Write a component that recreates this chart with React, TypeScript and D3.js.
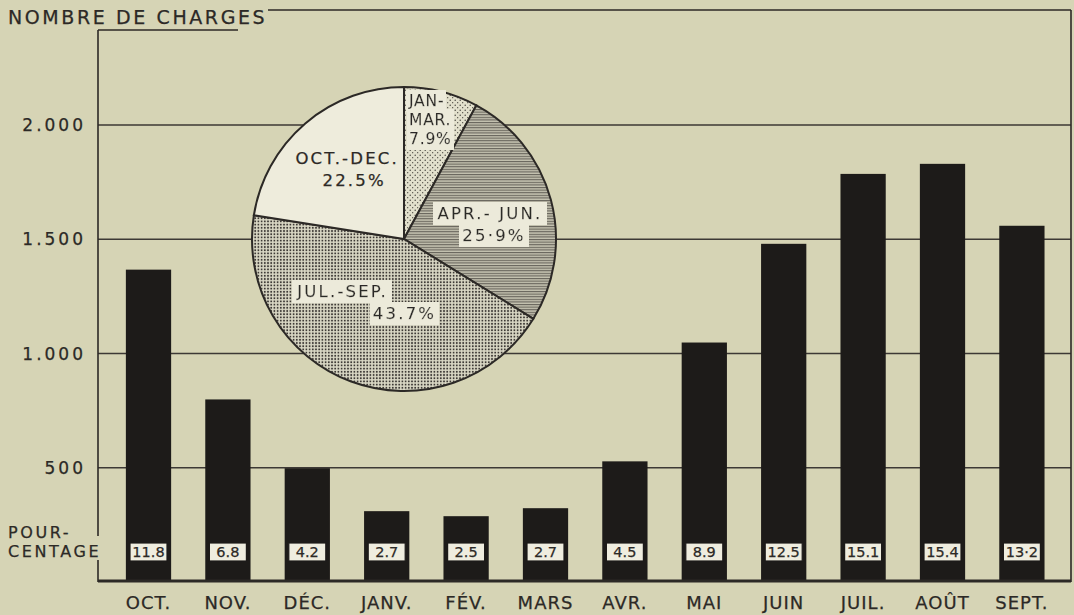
import React, { useEffect } from 'react';
import { scaleBand, scaleLinear, pie, arc } from 'd3';

// monthly counts
const months = ['OCT.', 'NOV.', 'DÉC.', 'JANV.', 'FÉV.', 'MARS', 'AVR.', 'MAI', 'JUIN', 'JUIL.', 'AOÛT', 'SEPT.'];
const charges = [1367, 799, 498, 310, 288, 323, 528, 1048, 1480, 1786, 1830, 1559];
const percents = ['11.8', '6.8', '4.2', '2.7', '2.5', '2.7', '4.5', '8.9', '12.5', '15.1', '15.4', '13·2'];

const yTicks = [500, 1000, 1500, 2000];
const yTickLabels = ['500', '1.000', '1.500', '2.000'];

// quarterly shares for the pie
const quarters = ['JAN.-MAR.', 'APR.-JUN.', 'JUL.-SEP.', 'OCT.-DEC.'];
const quarterShares = [7.9, 25.9, 43.7, 22.5];
const quarterLines = [
  ['JAN-', 'MAR.', '7.9%'],
  ['APR.- JUN.', '25·9%'],
  ['JUL.-SEP.', '43.7%'],
  ['OCT.-DEC.', '22.5%'],
];

const W = 1074, H = 615;
const BG = '#d6d4b5';
const INK = '#2c2926';
const FONT = '"DejaVu Sans", sans-serif';

const left = 98, right = 1071, base = 582;

// slightly heavier print look for the lettering
const ink = { stroke: INK, strokeWidth: 0.25 } as const;

const App = () => {
  useEffect(() => {
    document.body.style.margin = '0';
    document.body.style.background = BG;
  }, []);

  const x = scaleBand<string>()
    .domain(months)
    .range([108.8, 1061.6])
    .paddingInner(0.43)
    .paddingOuter(0.215);

  const y = scaleLinear().domain([0, 2000]).range([base, 125]);

  const cx = 404, cy = 239, r = 152;
  const slices = pie<number>().sort(null)(quarterShares);
  const drawArc = arc<any>().innerRadius(0).outerRadius(r);
  const fills = ['url(#sparse)', 'url(#hatch)', 'url(#dense)', '#eeecdc'];
  // label placement: [angle offset in rad, radius factor, text anchor]
  const labelPlace: [number, number, string][] = [
    [-0.06, 0.8, 'start'],
    [0.1, 0.6, 'middle'],
    [0.08, 0.46, 'middle'],
    [0.05, 0.58, 'middle'],
  ];
  const lineShift = [[0, 0, 0], [-4, 0], [-32, 30], [-3, 4]];

  return (
    <svg width={W} height={H} style={{ display: 'block', position: 'absolute', left: 0, top: 0 }}
      fontFamily={FONT} fill={INK}>
      <defs>
        <pattern id="sparse" width="5" height="5" patternUnits="userSpaceOnUse">
          <rect width="5" height="5" fill="#e2e0cc" />
          <circle cx="1.2" cy="1.2" r="0.7" fill="#3c3934" />
          <circle cx="3.7" cy="3.7" r="0.6" fill="#3c3934" />
        </pattern>
        <pattern id="dense" width="3.2" height="3.2" patternUnits="userSpaceOnUse">
          <rect width="3.2" height="3.2" fill="#d9d7c4" />
          <circle cx="1.6" cy="1.6" r="0.95" fill="#3a3632" />
        </pattern>
        <pattern id="hatch" width="6" height="2.6" patternUnits="userSpaceOnUse">
          <rect width="6" height="2.6" fill="#c4c2b0" />
          <rect y="0" width="6" height="1.1" fill="#67645b" />
        </pattern>
        <filter id="lbl" x="-0.04" y="-0.08" width="1.08" height="1.16">
          <feFlood floodColor="#eceada" />
          <feComposite in="SourceGraphic" operator="over" />
        </filter>
      </defs>

      <rect width={W} height={H} fill={BG} />

      {/* grid */}
      {yTicks.map((t) => (
        <line key={t} x1={left} x2={right} y1={y(t)} y2={y(t)} stroke="#3d3935" strokeWidth={1.5} />
      ))}
      {yTicks.map((t, i) => (
        <text key={'l' + t} x={86} y={y(t)} dy="0.36em" textAnchor="end" fontSize={17}
          letterSpacing={3} {...ink}>{yTickLabels[i]}</text>
      ))}

      {/* frame */}
      <line x1={left} x2={left} y1={30} y2={536} stroke={INK} strokeWidth={1.6} />
      <line x1={left} x2={left} y1={560} y2={base} stroke={INK} strokeWidth={1.6} />
      <line x1={left} x2={238} y1={30} y2={30} stroke={INK} strokeWidth={1.6} />
      <line x1={268} x2={right} y1={10} y2={10} stroke={INK} strokeWidth={1.6} />
      <line x1={right} x2={right} y1={10} y2={base} stroke={INK} strokeWidth={1.6} />

      <text x={8} y={24} fontSize={19} letterSpacing={2.6} {...ink}>NOMBRE DE CHARGES</text>

      {/* bars */}
      {months.map((m, i) => (
        <rect key={m} x={x(m)} y={y(charges[i])} width={x.bandwidth()} height={base - y(charges[i])}
          fill="#1d1b19" />
      ))}
      <line x1={left} x2={right} y1={base - 1} y2={base - 1} stroke={INK} strokeWidth={3} />

      {/* percentage boxes */}
      {months.map((m, i) => {
        const c = (x(m) as number) + x.bandwidth() / 2;
        return (
          <g key={'p' + m}>
            <rect x={c - 18.5} y={543} width={37} height={18} fill="#efeddf" stroke="#1d1b19" strokeWidth={1.2} />
            <text x={c} y={552} dy="0.36em" textAnchor="middle" fontSize={14.5} {...ink}>{percents[i]}</text>
          </g>
        );
      })}

      <text x={8} y={538} fontSize={16} letterSpacing={2.6} {...ink}>POUR-</text>
      <text x={8} y={557} fontSize={16} letterSpacing={2.6} {...ink}>CENTAGE</text>

      {/* month labels */}
      {months.map((m) => (
        <text key={'m' + m} x={(x(m) as number) + x.bandwidth() / 2} y={609} textAnchor="middle"
          fontSize={18} letterSpacing={1} {...ink}>{m}</text>
      ))}

      {/* pie */}
      <g transform={`translate(${cx},${cy})`}>
        {slices.map((s, i) => (
          <path key={quarters[i]} d={drawArc(s) as string} fill={fills[i]} stroke={INK} strokeWidth={2} />
        ))}
        {slices.map((s, i) => {
          const [off, rf, anchor] = labelPlace[i];
          const a = (s.startAngle + s.endAngle) / 2 + off;
          const lx = Math.sin(a) * r * rf;
          const ly = -Math.cos(a) * r * rf;
          const lines = quarterLines[i];
          const lh = i === 0 ? 19 : 22;
          return (
            <g key={'q' + i}>
              {lines.map((t, j) => (
                <text key={j} x={(i === 0 ? 5 : lx) + lineShift[i][j]} y={ly + (j - (lines.length - 1) / 2) * lh}
                  dy="0.36em" textAnchor={anchor} fontSize={i === 0 ? 15.5 : 16.5}
                  letterSpacing={i === 0 ? 0.8 : 2.2} {...ink}
                  filter={i === 3 ? undefined : 'url(#lbl)'}>{t}</text>
              ))}
            </g>
          );
        })}
      </g>
    </svg>
  );
};

export default App;
